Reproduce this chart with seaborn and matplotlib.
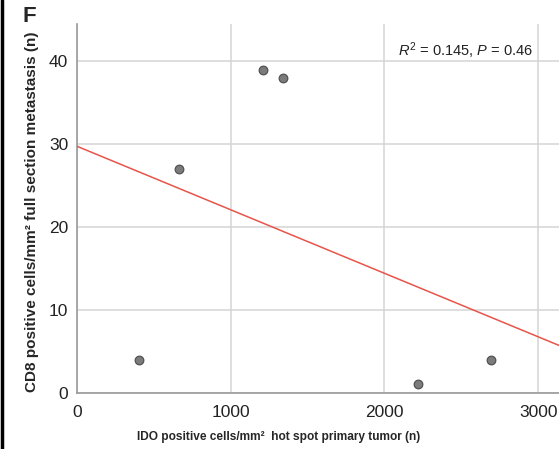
import numpy as np
import pandas as pd
import matplotlib
matplotlib.use("Agg")
import matplotlib.pyplot as plt
import seaborn as sns
from matplotlib.lines import Line2D

# Data
ido = [407, 667, 1212, 1343, 2220, 2692]
cd8 = [4, 27, 39, 38, 1, 4]
x_ticks = [0, 1000, 2000, 3000]
y_ticks = [0, 10, 20, 30, 40]
annot = r"$R^2$ = 0.145, $P$ = 0.46"
xlabel = "IDO positive cells/mm²  hot spot primary tumor (n)"
ylabel = "CD8 positive cells/mm² full section metastasis (n)"
panel = "F"

df = pd.DataFrame({"ido": ido, "cd8": cd8})

sns.set_style("white")
plt.rcParams["font.family"] = ["Liberation Sans", "DejaVu Sans"]
plt.rcParams["mathtext.fontset"] = "custom"
plt.rcParams["mathtext.rm"] = "Liberation Sans"
plt.rcParams["mathtext.it"] = "Liberation Sans:italic"

fig = plt.figure(figsize=(5.59, 4.49), dpi=100)
ax = fig.add_axes([76.7 / 559, (449 - 392.7) / 449, (559 - 76.7) / 559, (392.7 - 24) / 449])
ax.set_xlim(0, 3134)
ax.set_ylim(0, 44.5)

sns.regplot(data=df, x="ido", y="cd8", ax=ax, ci=None, truncate=False,
            scatter_kws=dict(s=40, color="#5a5a5a", edgecolor="#333333", linewidths=0.8, zorder=4),
            line_kws=dict(color="#e8544a", lw=1.1, zorder=3))

ax.set_xticks(x_ticks)
ax.set_yticks(y_ticks)
ax.grid(True, color="#d4d4d4", lw=1.1)
ax.set_axisbelow(True)
for s in ["top", "right"]:
    ax.spines[s].set_visible(False)
for s in ["left", "bottom"]:
    ax.spines[s].set_color("#9a9a9a")
    ax.spines[s].set_linewidth(1.2)
ax.tick_params(axis="both", length=0, labelsize=12.5, colors="#222222")
ax.tick_params(axis="x", pad=9)
ax.tick_params(axis="y", pad=6)

ax.set_xlabel(xlabel, fontsize=8.6, fontweight="bold")
ax.set_ylabel(ylabel, fontsize=11.0, fontweight="bold")
ax.xaxis.set_label_coords((279 - 76.7) / 482.3, -(437 - 392.7) / 368.7)
ax.yaxis.set_label_coords(-(76.7 - 32) / 482.3, (392.7 - 212) / 368.7)
ax.xaxis.label.set_va("center")
ax.yaxis.label.set_va("center")

ax.text(2088, 41.3, annot, fontsize=10.5, va="center", ha="left", color="#222222")
fig.text(23 / 559, 1 - 17 / 449, panel, fontsize=16, fontweight="bold",
         family="Liberation Sans", va="center", ha="left")
fig.add_artist(Line2D([0.003, 0.003], [0, 1], color="black", lw=2.5, transform=fig.transFigure))

fig.savefig("out.png", dpi=100)
